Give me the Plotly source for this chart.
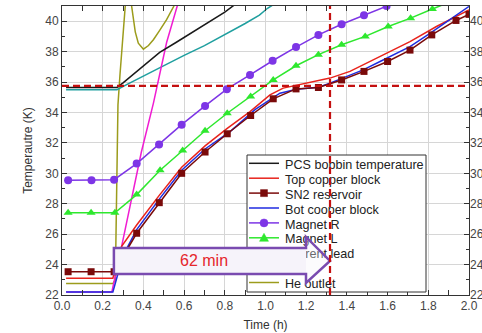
import plotly.graph_objects as go

# ---------------- data ----------------
t_pcs = [0.02, 0.27, 0.30, 0.35, 0.40, 0.48, 0.56, 0.64, 0.72, 0.80, 0.85]
pcs_bobbin = [35.65, 35.65, 35.95, 36.5, 37.1, 37.95, 38.6, 39.25, 39.9, 40.6, 41.1]

t_top = [0.02, 0.25, 0.293, 0.367, 0.478, 0.588, 0.703, 0.812, 0.924, 1.022, 1.087,
         1.153, 1.235, 1.317, 1.415, 1.54, 1.71, 1.84, 2.0]
top_copper = [23.1, 23.1, 25.2, 26.6, 28.55, 30.4, 31.8, 32.95, 34.06, 35.16, 35.6,
              35.8, 36.03, 36.26, 36.7, 37.55, 38.66, 39.65, 40.75]

t_sn2 = [0.03, 0.143, 0.256, 0.367, 0.478, 0.588, 0.703, 0.812, 0.927, 1.038, 1.15,
         1.26, 1.374, 1.484, 1.6, 1.71, 1.817, 1.936, 2.0]
sn2_reservoir = [23.53, 23.53, 23.53, 26.06, 28.07, 30.0, 31.4, 32.6, 33.8, 34.9, 35.55,
                 35.64, 36.14, 36.7, 37.35, 38.1, 39.1, 40.05, 40.45]

t_bot = [0.02, 0.25, 0.30, 0.367, 0.478, 0.588, 0.703, 0.826, 0.95, 1.071, 1.153,
         1.26, 1.317, 1.48, 1.563, 1.71, 1.808, 2.0]
bot_copper = [22.2, 22.2, 24.6, 26.3, 28.3, 30.2, 31.6, 32.74, 34.2, 35.27, 35.53,
              35.66, 35.93, 36.8, 37.35, 38.33, 39.2, 40.97]

t_mr = [0.03, 0.145, 0.256, 0.367, 0.477, 0.588, 0.703, 0.81, 0.924, 1.035, 1.15,
        1.26, 1.374, 1.484, 1.595, 1.70]
magnet_r = [29.55, 29.55, 29.58, 30.64, 31.9, 33.2, 34.43, 35.53, 36.47, 37.4, 38.3,
            39.1, 39.8, 40.4, 41.0, 41.55]

t_ml = [0.03, 0.143, 0.26, 0.367, 0.482, 0.593, 0.703, 0.812, 0.927, 1.038, 1.15,
        1.26, 1.374, 1.49, 1.603, 1.713, 1.82, 1.93]
magnet_l = [27.4, 27.4, 27.4, 28.6, 30.2, 31.5, 32.8, 33.95, 35.05, 36.14, 37.07,
            37.8, 38.45, 39.0, 39.65, 40.2, 40.8, 41.4]

t_cl = [0.02, 0.245, 0.293, 0.39, 0.449, 0.514, 0.575]
current_lead = [22.2, 22.2, 25.2, 31.4, 34.6, 38.6, 41.4]

t_cy = [0.02, 0.27, 0.32, 0.40, 0.48, 0.60, 0.70, 0.80, 0.90, 0.97, 1.01, 1.04]
cyan_sensor = [35.5, 35.5, 35.85, 36.4, 36.95, 37.75, 38.4, 39.1, 39.85, 40.4, 40.85, 41.1]

t_he = [0.02, 0.25, 0.262, 0.266, 0.27, 0.275, 0.285, 0.30, 0.314, 0.328, 0.342,
        0.36, 0.375, 0.40, 0.425, 0.45, 0.48, 0.514, 0.55, 0.57]
he_outlet = [22.75, 22.75, 23.0, 26.5, 30.0, 34.5, 36.5, 39.0, 41.0, 44.0, 41.0,
             39.3, 38.56, 38.16, 38.4, 38.8, 39.4, 40.1, 41.0, 41.6]

ref_temp = 35.75      # horizontal reference line (K)
ref_time = 1.317      # vertical reference line (h)
arrow_t0 = 0.255      # arrow start (h)
arrow_label = "62 min"

x_ticks = [0.0, 0.2, 0.4, 0.6, 0.8, 1.0, 1.2, 1.4, 1.6, 1.8, 2.0]
y_ticks = [22, 24, 26, 28, 30, 32, 34, 36, 38, 40]

series = [
    ("PCS bobbin temperature", t_pcs, pcs_bobbin, "#1a1a1a", None),
    ("Top copper block", t_top, top_copper, "#e8231c", None),
    ("SN2 reservoir", t_sn2, sn2_reservoir, "#7a0a0a", "square"),
    ("Bot cooper block", t_bot, bot_copper, "#1f2be0", None),
    ("Magnet R", t_mr, magnet_r, "#7d35e6", "circle"),
    ("Magnet L", t_ml, magnet_l, "#2ee82e", "triangle-up"),
    ("Current lead", t_cl, current_lead, "#f01cd2", None),
    ("", t_cy, cyan_sensor, "#1f9f9f", None),
    ("He outlet", t_he, he_outlet, "#9c9c1c", None),
]

# ---------------- figure ----------------
W, H = 482, 333
ML, MR, MT, MB = 62, 13, 6, 38
PW, PH = W - ML - MR, H - MT - MB
FONT = "Liberation Sans, Arial, sans-serif"

def px(p):
    return (p - ML) / PW

def py(p):
    return (H - MB - p) / PH

fig = go.Figure()
draw_order = [8, 7, 6, 0, 1, 3, 2, 4, 5]
for i in draw_order:
    name, tx, ty, col, sym = series[i]
    mode = "lines+markers" if sym else "lines"
    fig.add_trace(go.Scatter(
        x=tx, y=ty, mode=mode, name=name, showlegend=False,
        line=dict(color=col, width=1.5),
        marker=dict(symbol=sym or "circle", size=7 if sym == "square" else 8, color=col),
    ))
fig.add_trace(go.Scatter(x=[], y=[], yaxis="y2", showlegend=False))

shapes = []
# legend box
LX0, LX1, LY0, LY1 = 247, 426, 155, 292
shapes.append(dict(type="rect", xref="paper", yref="paper", layer="above",
                   x0=px(LX0), x1=px(LX1), y0=py(LY1), y1=py(LY0),
                   fillcolor="white", line=dict(color="#333", width=1)))
for k, (name, tx, ty, col, sym) in enumerate(series):
    yc = 163.3 + 14.9 * k
    shapes.append(dict(type="line", xref="paper", yref="paper", layer="above",
                       x0=px(249), x1=px(279), y0=py(yc), y1=py(yc),
                       line=dict(color=col, width=1.5)))
    if sym == "square":
        shapes.append(dict(type="rect", xref="paper", yref="paper", layer="above",
                           x0=px(260.5), x1=px(267.5), y0=py(yc + 3.5), y1=py(yc - 3.5),
                           fillcolor=col, line=dict(color=col, width=0.5)))
    elif sym == "circle":
        shapes.append(dict(type="circle", xref="paper", yref="paper", layer="above",
                           x0=px(260), x1=px(268), y0=py(yc + 4), y1=py(yc - 4),
                           fillcolor=col, line=dict(color=col, width=0.5)))
    elif sym == "triangle-up":
        path = "M %f %f L %f %f L %f %f Z" % (px(264), py(yc - 4.5), px(259.5), py(yc + 3.5),
                                              px(268.5), py(yc + 3.5))
        shapes.append(dict(type="path", xref="paper", yref="paper", layer="above",
                           path=path, fillcolor=col, line=dict(color=col, width=0.5)))
    if name:
        shapes.append(dict(type="rect", xref="paper", yref="paper", layer="above",
                           x0=px(282), x1=px(424), y0=py(yc + 6), y1=py(yc - 6),
                           line=dict(width=0), fillcolor="rgba(0,0,0,0)",
                           label=dict(text=name, textposition="middle left", padding=0,
                                      font=dict(family=FONT, size=12.6, color="#222"))))

# block arrow (data coordinates): opaque body, outline-only head
head_base = 1.199
by0, by1, hy0, hy1, tip_y = 23.38, 25.09, 22.79, 25.82, 24.24
shapes.append(dict(type="rect", xref="x", yref="y", layer="above",
                   x0=arrow_t0, x1=head_base, y0=by0, y1=by1,
                   fillcolor="#f6f3fa", line=dict(width=0)))
arrow_path = ("M {a} {b0} L {hb} {b0} L {hb} {h0} L {tx} {ty} L {hb} {h1} "
              "L {hb} {b1} L {a} {b1} Z").format(a=arrow_t0, b0=by0, b1=by1, hb=head_base,
                                                 h0=hy0, h1=hy1, tx=ref_time, ty=tip_y)
shapes.append(dict(type="path", xref="x", yref="y", layer="above", path=arrow_path,
                   fillcolor="rgba(246,243,250,0.35)", line=dict(color="#7a4bb0", width=2.5)))

# dashed reference lines
shapes.append(dict(type="line", xref="paper", yref="y", layer="above", x0=0, x1=1,
                   y0=ref_temp, y1=ref_temp, line=dict(color="#c41010", width=2.2, dash="7px,4px")))
shapes.append(dict(type="line", xref="x", yref="paper", layer="above", x0=ref_time, x1=ref_time,
                   y0=0, y1=1, line=dict(color="#c41010", width=2.2, dash="7px,4px")))

fig.update_layout(
    width=W, height=H, template="none",
    margin=dict(l=ML, r=MR, t=MT, b=MB, pad=0),
    paper_bgcolor="white", plot_bgcolor="white",
    showlegend=False, shapes=shapes,
    font=dict(family=FONT, size=12, color="#444"),
    annotations=[dict(x=0.70, y=tip_y, xref="x", yref="y", text=arrow_label, showarrow=False,
                      font=dict(family=FONT, size=16, color="#e5262a"))],
    xaxis=dict(range=[0, 2.0], tickvals=x_ticks, tickformat=".1f", ticks="inside", ticklen=5,
               tickcolor="#333", showline=True, linecolor="#333", linewidth=1, mirror="allticks",
               showgrid=True, gridcolor="#d6d6d6", gridwidth=1, zeroline=False,
               tickfont=dict(size=12, color="#444"),
               minor=dict(dtick=0.1, ticks="inside", ticklen=3, tickcolor="#333", showgrid=False),
               title=dict(text="Time (h)", font=dict(size=12, color="#333"), standoff=8)),
    yaxis=dict(range=[22, 41], tickvals=y_ticks, ticks="inside", ticklen=5,
               tickcolor="#333", showline=True, linecolor="#333", linewidth=1, mirror="allticks",
               showgrid=True, gridcolor="#d6d6d6", gridwidth=1, zeroline=False,
               tickfont=dict(size=12, color="#444"),
               minor=dict(dtick=1, ticks="inside", ticklen=3, tickcolor="#333", showgrid=False),
               title=dict(text="Temperautre (K)", font=dict(size=12, color="#333"), standoff=10)),
    yaxis2=dict(range=[22, 41], tickvals=y_ticks, overlaying="y", side="right", showgrid=False,
                showline=False, ticks="", zeroline=False, tickfont=dict(size=12, color="#444")),
)

fig.write_html("out.html", config={"displayModeBar": False},
               post_script="document.body.style.margin='0px';")
